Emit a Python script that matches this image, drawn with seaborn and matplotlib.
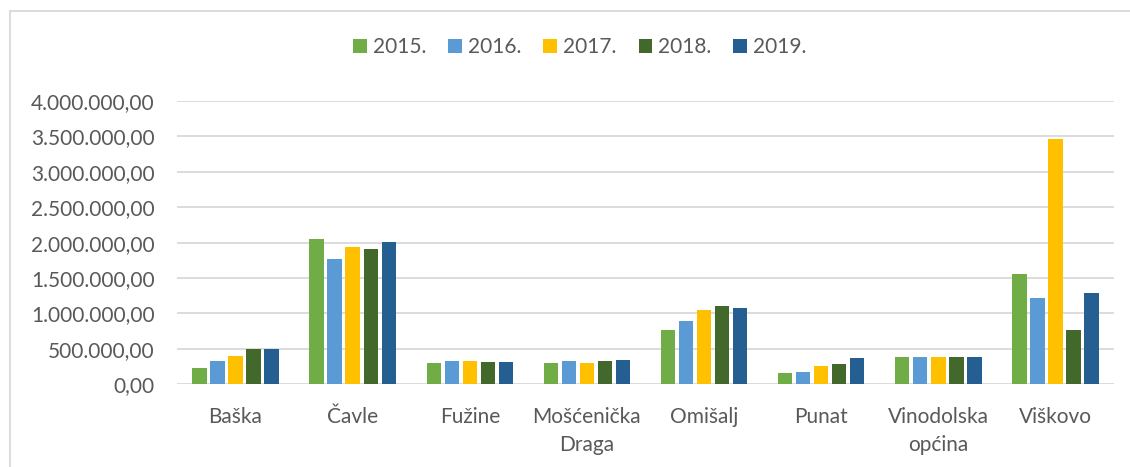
import matplotlib
matplotlib.use("Agg")
import matplotlib.pyplot as plt
from matplotlib.lines import Line2D
from matplotlib.ticker import FuncFormatter, MultipleLocator
from matplotlib.transforms import blended_transform_factory, ScaledTranslation
import seaborn as sns
import pandas as pd

# Iznosi po općinama i godinama
opcine = ["Baška", "Čavle", "Fužine", "Mošćenička\nDraga", "Omišalj",
          "Punat", "Vinodolska\nopćina", "Viškovo"]
godine = ["2015.", "2016.", "2017.", "2018.", "2019."]
iznos_2015 = [235000, 2054000, 297000, 306000, 769000, 160000, 382000, 1552000]
iznos_2016 = [326000, 1770000, 330000, 326000, 892000, 178000, 382000, 1222000]
iznos_2017 = [400000, 1940000, 326000, 306000, 1052000, 263000, 382000, 3460000]
iznos_2018 = [495000, 1910000, 310000, 330000, 1109000, 283000, 382000, 765000]
iznos_2019 = [492000, 2015000, 310000, 340000, 1081000, 368000, 382000, 1293000]
boje = ["#70AD47", "#5B9BD5", "#FFC000", "#43682B", "#255E91"]

serije = [iznos_2015, iznos_2016, iznos_2017, iznos_2018, iznos_2019]
df = pd.DataFrame(
    [(o, g, v) for g, s in zip(godine, serije) for o, v in zip(opcine, s)],
    columns=["Općina", "Godina", "Iznos"],
)

sns.set_theme(style="white")
plt.rcParams["font.family"] = ["Lato", "DejaVu Sans"]
tekst = "#595959"
vel = 15

fig = plt.figure(figsize=(11.3, 4.67), dpi=100)
ax = fig.add_axes([177 / 1130, 1 - 384.3 / 467, (1114 - 177) / 1130, (384.3 - 101) / 467])

sns.barplot(data=df, x="Općina", y="Iznos", hue="Godina", palette=boje,
            width=0.77, gap=0.2, ax=ax, saturation=1, linewidth=0)

ax.set_ylim(0, 4000000)
ax.yaxis.set_major_locator(MultipleLocator(500000))
ax.yaxis.set_major_formatter(FuncFormatter(
    lambda v, _: f"{v:,.2f}".replace(",", " ").replace(".", ",").replace(" ", ".")))
ax.grid(axis="y", color="#D9D9D9", linewidth=1.3)
ax.set_axisbelow(True)
for s in ax.spines.values():
    s.set_visible(False)
ax.set_xlabel("")
ax.set_ylabel("")
ax.tick_params(axis="y", length=0, pad=16, labelsize=vel, labelcolor=tekst)
ax.tick_params(axis="x", length=0, labelbottom=False)

# Nazivi općina ispod osi, redak po redak na zajedničkoj osnovnoj liniji
trans = blended_transform_factory(ax.transData, ax.transAxes)
for xpos, naziv in zip(ax.get_xticks(), opcine):
    for k, redak in enumerate(naziv.split("\n")):
        pomak = ScaledTranslation(0, -(38.7 + 28 * k) / 100, fig.dpi_scale_trans)
        ax.text(xpos, 0, redak, transform=trans + pomak, ha="center",
                va="baseline", fontsize=vel, color=tekst, clip_on=False)

sns.move_legend(ax, "center", ncol=5, frameon=False, title=None,
                fontsize=vel, handlelength=0.65, handleheight=0.65,
                handletextpad=0.3, columnspacing=1.05, labelcolor=tekst)
leg = ax.get_legend()
leg.set_bbox_to_anchor((580 / 1130, 1 - 47 / 467), transform=fig.transFigure)

# Okvir grafikona
okvir = dict(color="#D9D9D9", linewidth=1.3, transform=fig.transFigure)
fig.add_artist(Line2D([10 / 1130, 10 / 1130], [0, 1 - 10.5 / 467], **okvir))
fig.add_artist(Line2D([10 / 1130, 1], [1 - 10.5 / 467, 1 - 10.5 / 467], **okvir))

fig.savefig("out.png", dpi=100, facecolor="white")
